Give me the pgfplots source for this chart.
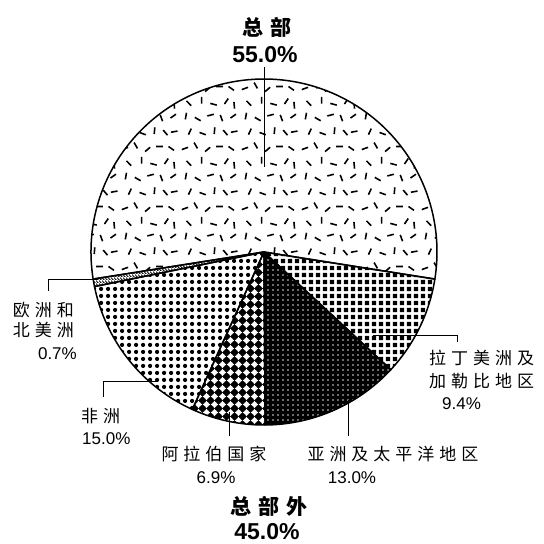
\documentclass[border=0pt]{standalone}
\usepackage{pgfplots}
\usepackage{pgfplotstable}
\pgfplotsset{compat=1.18}
\usetikzlibrary{patterns}
\usepackage{fontspec}
\setmainfont{Liberation Sans}
\newfontfamily\cjk{Noto Sans CJK SC}

% letter-spaced CJK text
\newdimen\cjkgap
\def\spcend{\spcend}
\def\spc#1{\spcloop#1\spcend}
\def\spcloop#1#2{#1\ifx\spcend#2\else\kern\cjkgap\expandafter\spcloop\expandafter#2\fi}
\newcommand\zh[2]{\cjkgap=#1\relax\spc{#2}}

% short dash for the HQ pattern
\newcommand\hqd[3]{%
  \pgfpathmoveto{\pgfpointadd{\pgfpoint{#1pt}{#2pt}}{\pgfpointpolar{#3}{3.4pt}}}%
  \pgfpathlineto{\pgfpointadd{\pgfpoint{#1pt}{#2pt}}{\pgfpointpolar{#3}{-3.4pt}}}}

\pgfdeclarepatternformonly{hqdash}{\pgfpointorigin}{\pgfpoint{60pt}{60pt}}{\pgfpoint{60pt}{60pt}}{%
  \pgfsetlinewidth{1.6pt}%
  \hqd{6}{8}{80}\hqd{18}{5}{-30}\hqd{31}{9}{15}\hqd{42}{6}{-70}\hqd{54}{8}{35}%
  \hqd{9}{21}{-45}\hqd{22}{24}{90}\hqd{34}{20}{-15}\hqd{47}{23}{55}\hqd{55}{19}{-85}%
  \hqd{5}{36}{20}\hqd{16}{39}{-60}\hqd{28}{35}{40}\hqd{40}{38}{0}\hqd{52}{36}{-35}%
  \hqd{10}{53}{65}\hqd{23}{51}{-20}\hqd{35}{54}{85}\hqd{46}{52}{-50}\hqd{55}{53}{10}%
  \pgfusepath{stroke}}
\pgfdeclarepatternformonly{sqgrid}{\pgfpointorigin}{\pgfpoint{7pt}{7pt}}{\pgfpoint{7pt}{7pt}}{%
  \pgfpathrectangle{\pgfpoint{1.1pt}{1.1pt}}{\pgfpoint{4.8pt}{4.8pt}}\pgfusepath{fill}}
\pgfdeclarepatternformonly{dotgrid}{\pgfpointorigin}{\pgfpoint{7pt}{7pt}}{\pgfpoint{7pt}{7pt}}{%
  \pgfpathcircle{\pgfpoint{3.5pt}{3.5pt}}{2.4pt}\pgfusepath{fill}}
\pgfdeclarepatternformonly{finedot}{\pgfpointorigin}{\pgfpoint{4.5pt}{4.5pt}}{\pgfpoint{4.5pt}{4.5pt}}{%
  \pgfpathrectangle{\pgfpoint{1.5pt}{1.5pt}}{\pgfpoint{1.3pt}{1.3pt}}\pgfusepath{fill}}
\pgfdeclarepatternformonly{ringgrid}{\pgfpointorigin}{\pgfpoint{7.5pt}{7.5pt}}{\pgfpoint{7.5pt}{7.5pt}}{%
  \pgfsetlinewidth{1.3pt}%
  \pgfpathmoveto{\pgfpoint{0pt}{3.75pt}}\pgfpathlineto{\pgfpoint{7.5pt}{3.75pt}}%
  \pgfpathmoveto{\pgfpoint{3.75pt}{0pt}}\pgfpathlineto{\pgfpoint{3.75pt}{7.5pt}}%
  \pgfusepath{stroke}%
  \pgfpathcircle{\pgfpoint{3.75pt}{3.75pt}}{2.8pt}\pgfusepath{fill}}
\pgfdeclarepatternformonly{hatch}{\pgfpointorigin}{\pgfpoint{3pt}{3pt}}{\pgfpoint{3pt}{3pt}}{%
  \pgfsetlinewidth{1pt}%
  \pgfpathmoveto{\pgfpoint{-0.5pt}{3.5pt}}\pgfpathlineto{\pgfpoint{3.5pt}{-0.5pt}}%
  \pgfusepath{stroke}}

\tikzset{
  hq/.style={pattern=hqdash},
  latin/.style={pattern=sqgrid},
  asia/.style={fill=black, postaction={pattern=finedot, pattern color=white}},
  arab/.style={fill=black, postaction={pattern=ringgrid, pattern color=white}},
  africa/.style={pattern=dotgrid},
  europe/.style={pattern=hatch},
  lead/.style={line width=0.9pt},
}

% shares in per cent, clockwise from the right edge of the HQ slice
\pgfplotstableread{
share style
9.4   latin
13.0  asia
6.9   arab
15.0  africa
0.7   europe
55.0  hq
}\piedata

\begin{document}
\begin{tikzpicture}
\begin{axis}[
  width=544pt, height=544pt, scale only axis,
  xmin=0, xmax=544, ymin=0, ymax=544, y dir=reverse,
  hide axis, clip=false,
]
\path (axis cs:0,0) rectangle (axis cs:544,544);
\pgfplotsextra{
  % fills
  \xdef\angA{-9}
  \pgfplotstableforeachcolumnelement{share}\of\piedata\as\v{%
    \pgfplotstablegetelem{\pgfplotstablerow}{style}\of\piedata
    \pgfmathsetmacro\angB{\angA-3.6*\v}%
    \expandafter\path\expandafter[\pgfplotsretval] (axis cs:264,252) -- ++(\angA:173pt)
      arc[start angle=\angA, end angle=\angB, radius=173pt] -- cycle;
    \xdef\angA{\angB}%
  }
  % outlines
  \xdef\angA{-9}
  \pgfplotstableforeachcolumnelement{share}\of\piedata\as\v{%
    \pgfmathsetmacro\angB{\angA-3.6*\v}%
    \draw[line width=1.5pt, line join=round] (axis cs:264,252) -- ++(\angA:173pt)
      arc[start angle=\angA, end angle=\angB, radius=173pt] -- cycle;
    \xdef\angA{\angB}%
  }
}
% leader lines
\draw[lead] (axis cs:264,67) -- (axis cs:264,167);
\draw[lead] (axis cs:97,279) -- (axis cs:48,279) -- (axis cs:48,291);
\draw[lead] (axis cs:373,335) -- (axis cs:457,335) -- (axis cs:457,342);
\draw[lead] (axis cs:158,381) -- (axis cs:103,381) -- (axis cs:103,397);
\draw[lead] (axis cs:229,412) -- (axis cs:229,436);
\draw[lead] (axis cs:348,400) -- (axis cs:348,436);
% labels
\node[font=\cjk\bfseries\fontsize{21}{24}\selectfont] at (axis cs:267,27) {\zh{7pt}{总部}};
\node[font=\bfseries\fontsize{23}{26}\selectfont] at (axis cs:265,55) {55.0\%};
\node[font=\cjk\bfseries\fontsize{21}{24}\selectfont] at (axis cs:269,506) {\zh{7pt}{总部外}};
\node[font=\bfseries\fontsize{23}{26}\selectfont] at (axis cs:267,532) {45.0\%};
\begin{scope}[every node/.style={inner sep=0pt}]
\node[anchor=east, font=\cjk\fontsize{17}{20}\selectfont] at (axis cs:74,310) {\zh{5pt}{欧洲和}};
\node[anchor=east, font=\cjk\fontsize{17}{20}\selectfont] at (axis cs:74,330) {\zh{5pt}{北美洲}};
\node[anchor=east, font=\fontsize{17}{20}\selectfont] at (axis cs:77,354) {0.7\%};
\node[anchor=west, font=\cjk\fontsize{17}{20}\selectfont] at (axis cs:81,416) {\zh{5pt}{非洲}};
\node[anchor=west, font=\fontsize{17}{20}\selectfont] at (axis cs:82,439) {15.0\%};
\node[anchor=west, font=\cjk\fontsize{17}{20}\selectfont] at (axis cs:429,358) {\zh{5pt}{拉丁美洲及}};
\node[anchor=west, font=\cjk\fontsize{17}{20}\selectfont] at (axis cs:429,381) {\zh{5pt}{加勒比地区}};
\node[anchor=west, font=\fontsize{17}{20}\selectfont] at (axis cs:442,404) {9.4\%};
\node[font=\cjk\fontsize{17}{20}\selectfont] at (axis cs:214,454) {\zh{5pt}{阿拉伯国家}};
\node[font=\fontsize{17}{20}\selectfont] at (axis cs:216,478) {6.9\%};
\node[font=\cjk\fontsize{17}{20}\selectfont] at (axis cs:393,454) {\zh{5pt}{亚洲及太平洋地区}};
\node[font=\fontsize{17}{20}\selectfont] at (axis cs:352,478) {13.0\%};
\end{scope}
\end{axis}
\end{tikzpicture}
\end{document}
